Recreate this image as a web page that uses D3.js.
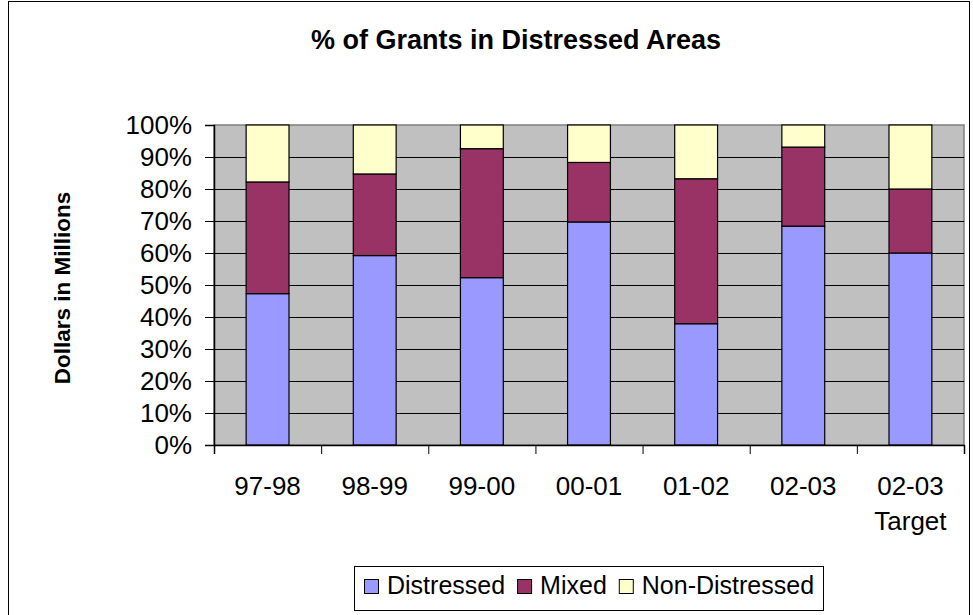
<!DOCTYPE html>
<html>
<head>
<meta charset="utf-8">
<script src="https://cdn.jsdelivr.net/npm/d3@7"></script>
<style>
  html, body { margin: 0; padding: 0; background: #fff; }
  svg { display: block; font-family: "Liberation Sans", Arial, sans-serif; }
</style>
</head>
<body>
<svg id="chart" width="973" height="615"></svg>
<script>
// Fiscal years shown on the category axis (a space splits a label onto two lines)
const categories = ["97-98", "98-99", "99-00", "00-01", "01-02", "02-03", "02-03 Target"];

// Share of grants (%) by area type, per year
const distressed    = [47.3, 59.2, 52.3, 69.7, 37.9, 68.4, 60.0];
const mixed         = [34.9, 25.5, 40.3, 18.6, 45.3, 24.7, 20.0];
const nonDistressed = [17.8, 15.3,  7.4, 11.7, 16.8,  6.9, 20.0];

const seriesNames = ["Distressed", "Mixed", "Non-Distressed"];
const seriesColors = ["#9999FF", "#993366", "#FFFFCC"];

const yTicks = d3.range(0, 1.0001, 0.1);

const title = "% of Grants in Distressed Areas";
const yTitle = "Dollars in Millions";

const rows = categories.map((c, i) => ({
  cat: c,
  "Distressed": distressed[i],
  "Mixed": mixed[i],
  "Non-Distressed": nonDistressed[i]
}));

const stacked = d3.stack()
  .keys(seriesNames)
  .offset(d3.stackOffsetExpand)(rows);

const svg = d3.select("#chart");

// Outer chart frame
svg.append("rect")
  .attr("x", 8.5).attr("y", 1.5)
  .attr("width", 961).attr("height", 640)
  .attr("fill", "#fff").attr("stroke", "#000").attr("stroke-width", 1);

const plot = { left: 214, right: 964, top: 125, bottom: 445 };

const x = d3.scaleBand()
  .domain(categories)
  .range([plot.left, plot.right])
  .paddingInner(0.6)
  .paddingOuter(0.3);

const xEdge = d3.scaleLinear()
  .domain([0, categories.length])
  .range([plot.left, plot.right]);

const y = d3.scaleLinear().domain([0, 1]).range([plot.bottom, plot.top]);

// Plot background
svg.append("rect")
  .attr("x", plot.left).attr("y", plot.top)
  .attr("width", plot.right - plot.left).attr("height", plot.bottom - plot.top)
  .attr("fill", "#C0C0C0")
  .attr("stroke", "#808080").attr("stroke-width", 1.5);

// Horizontal gridlines
svg.append("g")
  .selectAll("line")
  .data(yTicks.filter(t => t > 0 && t < 1))
  .join("line")
  .attr("x1", plot.left).attr("x2", plot.right)
  .attr("y1", d => Math.round(y(d)) + 0.5).attr("y2", d => Math.round(y(d)) + 0.5)
  .attr("stroke", "#000").attr("stroke-width", 1);

// Stacked bars
svg.append("g")
  .selectAll("g")
  .data(stacked)
  .join("g")
  .attr("fill", (d, i) => seriesColors[i])
  .selectAll("rect")
  .data(d => d)
  .join("rect")
  .attr("x", d => x(d.data.cat))
  .attr("width", x.bandwidth())
  .attr("y", d => y(d[1]))
  .attr("height", d => y(d[0]) - y(d[1]))
  .attr("stroke", "#000").attr("stroke-width", 1.2);

// Y axis
const yAxis = svg.append("g")
  .attr("transform", `translate(${plot.left},0)`)
  .call(d3.axisLeft(y).tickValues(yTicks).tickFormat(d3.format(".0%")).tickSize(9).tickPadding(13));
yAxis.select(".domain").attr("stroke", "#000").attr("stroke-width", 1.5);
yAxis.selectAll(".tick line").attr("stroke", "#000");
yAxis.selectAll(".tick text")
  .attr("font-size", 26).attr("fill", "#000")
  .attr("font-family", "'Liberation Sans', Arial, sans-serif");

// X axis: ticks between categories
const xAxis = svg.append("g")
  .attr("transform", `translate(0,${plot.bottom})`)
  .call(d3.axisBottom(xEdge).tickValues(d3.range(categories.length + 1)).tickFormat("").tickSize(9));
xAxis.select(".domain").attr("stroke", "#000").attr("stroke-width", 1.5);
xAxis.selectAll(".tick line").attr("stroke", "#000");

// Category labels
const catLabels = svg.append("g")
  .selectAll("text")
  .data(categories)
  .join("text")
  .attr("x", d => x(d) + x.bandwidth() / 2)
  .attr("y", 495)
  .attr("text-anchor", "middle")
  .attr("font-size", 26)
  .attr("fill", "#000");
catLabels.each(function(d) {
  const lines = d.split(" ");
  d3.select(this).selectAll("tspan")
    .data(lines)
    .join("tspan")
    .attr("x", x(d) + x.bandwidth() / 2)
    .attr("dy", (l, i) => i === 0 ? 0 : 35)
    .text(l => l);
});

// Title
svg.append("text")
  .attr("x", 516).attr("y", 49)
  .attr("text-anchor", "middle")
  .attr("font-size", 27).attr("font-weight", "bold")
  .attr("fill", "#000")
  .text(title);

// Y axis title
svg.append("text")
  .attr("transform", "translate(70,288) rotate(-90)")
  .attr("text-anchor", "middle")
  .attr("font-size", 22.5).attr("font-weight", "bold")
  .attr("fill", "#000")
  .text(yTitle);

// Legend
const legend = svg.append("g");
legend.append("rect")
  .attr("x", 354.5).attr("y", 566.5)
  .attr("width", 469).attr("height", 44)
  .attr("fill", "#fff").attr("stroke", "#000").attr("stroke-width", 1);

let lx = 364;
seriesNames.forEach((name, i) => {
  legend.append("rect")
    .attr("x", lx + 0.5).attr("y", 579.5)
    .attr("width", 14).attr("height", 14)
    .attr("fill", seriesColors[i]).attr("stroke", "#000").attr("stroke-width", 1);
  const t = legend.append("text")
    .attr("x", lx + 23).attr("y", 594)
    .attr("font-size", 25).attr("fill", "#000")
    .text(name);
  lx += 23 + t.node().getComputedTextLength() + 12;
});
</script>
</body>
</html>
